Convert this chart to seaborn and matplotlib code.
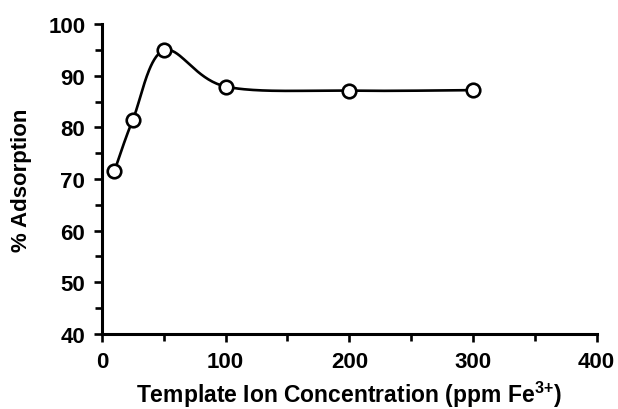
import numpy as np
import pandas as pd
import matplotlib
matplotlib.use("Agg")
import matplotlib.pyplot as plt
import seaborn as sns
from matplotlib.ticker import MultipleLocator

# data
conc = [10, 25, 50, 100, 200, 300]
adsorption = [71.5, 81.5, 94.9, 87.9, 87.1, 87.2]
x_ticks = [0, 100, 200, 300, 400]
y_ticks = [40, 50, 60, 70, 80, 90, 100]

sns.set_theme(style="ticks")
plt.rcParams["font.family"] = ["Liberation Sans", "DejaVu Sans"]
plt.rcParams["text.color"] = "black"
plt.rcParams["axes.labelcolor"] = "black"
plt.rcParams["xtick.color"] = "black"
plt.rcParams["ytick.color"] = "black"
plt.rcParams["mathtext.fontset"] = "custom"
plt.rcParams["mathtext.rm"] = "Liberation Sans:bold"
plt.rcParams["mathtext.it"] = "Liberation Sans:bold"
plt.rcParams["mathtext.bf"] = "Liberation Sans:bold"

df = pd.DataFrame({"conc": conc, "ads": adsorption})

# smooth (Catmull-Rom, Excel-like) curve through the points
def smooth(xs, ys, n=40):
    P = np.column_stack([xs, ys]).astype(float)
    out = []
    for i in range(len(P) - 1):
        p0 = P[i - 1] if i > 0 else P[i]
        p1, p2 = P[i], P[i + 1]
        p3 = P[i + 2] if i + 2 < len(P) else P[i + 1]
        c1 = p1 + (p2 - p0) / 6
        c2 = p2 - (p3 - p1) / 6
        t = np.linspace(0, 1, n)[:, None]
        seg = (1 - t) ** 3 * p1 + 3 * (1 - t) ** 2 * t * c1 + 3 * (1 - t) * t ** 2 * c2 + t ** 3 * p2
        out.append(seg if i == 0 else seg[1:])
    s = np.vstack(out)
    return s[:, 0], s[:, 1]

sx, sy = smooth(conc, adsorption)
curve = pd.DataFrame({"conc": sx, "ads": sy})

fig = plt.figure(figsize=(6.18, 4.10), dpi=100)
ax = fig.add_axes([0.165, 0.183, 0.8005, 0.756])

sns.lineplot(data=curve, x="conc", y="ads", sort=False, color="black", linewidth=1.9, ax=ax)
sns.scatterplot(data=df, x="conc", y="ads", marker="o", s=95, facecolor="white",
                edgecolor="black", linewidth=1.9, zorder=5, ax=ax)

ax.set_xlim(0, 400)
ax.set_ylim(40, 100)
ax.set_xticks(x_ticks)
ax.set_yticks(y_ticks)
ax.xaxis.set_minor_locator(MultipleLocator(50))
ax.yaxis.set_minor_locator(MultipleLocator(5))
ax.tick_params(which="major", direction="out", length=6, width=1.9, labelsize=16, pad=6,
               color="black", labelcolor="black")
ax.tick_params(which="minor", direction="out", length=5, width=1.9, color="black")
for lab in ax.get_xticklabels() + ax.get_yticklabels():
    lab.set_fontweight("bold")

for side in ["top", "right"]:
    ax.spines[side].set_visible(False)
for side in ["left", "bottom"]:
    ax.spines[side].set_linewidth(2.2)
    ax.spines[side].set_color("black")

ax.set_xlabel(r"Template Ion Concentration (ppm Fe$^{3}$$^{+}$)", fontsize=16.5,
              fontweight="bold", labelpad=5, color="black")
ax.set_ylabel("% Adsorption", fontsize=16, fontweight="bold", labelpad=12, color="black")

fig.savefig("out.png", dpi=100, facecolor="white")
